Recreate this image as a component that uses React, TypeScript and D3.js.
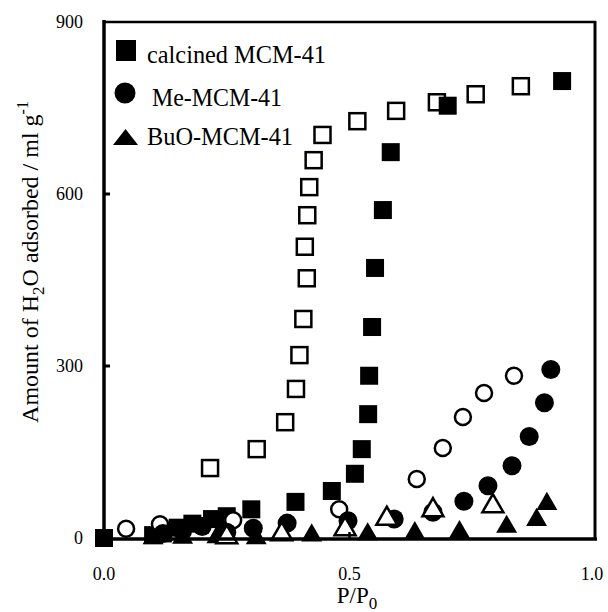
import React from 'react';
import * as d3 from 'd3';

// P/P0 vs amount of H2O adsorbed (ml g-1)
const calcinedAdsX = [0.0, 0.10, 0.12, 0.15, 0.18, 0.22, 0.25, 0.30, 0.39, 0.464, 0.511, 0.525, 0.538, 0.540, 0.546, 0.552, 0.568, 0.584, 0.70, 0.933];
const calcinedAdsY = [0, 5, 8, 18, 25, 33, 38, 50, 63, 82, 112, 155, 216, 283, 368, 471, 572, 673, 754, 797];
const calcinedDesX = [0.216, 0.311, 0.369, 0.391, 0.398, 0.406, 0.413, 0.409, 0.414, 0.418, 0.427, 0.445, 0.516, 0.595, 0.678, 0.757, 0.849];
const calcinedDesY = [122, 155, 202, 260, 319, 382, 453, 508, 563, 612, 659, 703, 727, 745, 760, 774, 788];
const meAdsX = [0.12, 0.16, 0.20, 0.25, 0.304, 0.373, 0.497, 0.591, 0.670, 0.733, 0.782, 0.831, 0.866, 0.897, 0.910];
const meAdsY = [8, 12, 20, 10, 17, 26, 30, 33, 45, 64, 91, 126, 177, 236, 294];
const meDesX = [0.045, 0.114, 0.263, 0.479, 0.637, 0.690, 0.731, 0.774, 0.835];
const meDesY = [16, 24, 31, 50, 103, 157, 211, 253, 283];
const buoAdsX = [0.10, 0.16, 0.23, 0.31, 0.423, 0.537, 0.633, 0.724, 0.820, 0.881, 0.902];
const buoAdsY = [3, 4, 5, 3, 8, 10, 12, 14, 23, 35, 63];
const buoDesX = [0.25, 0.362, 0.491, 0.576, 0.670, 0.792];
const buoDesY = [5, 10, 19, 37, 52, 59];
const xTicks = [0, 0.5, 1.0];
const yTicks = [0, 300, 600, 900];
const legendNames = ['calcined MCM-41', 'Me-MCM-41', 'BuO-MCM-41'];

const W = 608;
const H = 612;
const x = d3.scaleLinear().domain([0, 1]).range([104, 595]);
const y = d3.scaleLinear().domain([0, 900]).range([538, 22]);
const font = '"Liberation Serif", "DejaVu Serif", serif';
const tri = d3.symbol().type(d3.symbolTriangle).size(190)() as string;

const pts = (xs: number[], ys: number[]) => xs.map((v, i) => [x(v), y(ys[i])]);

function Square({ cx, cy, open }: { cx: number; cy: number; open: boolean }) {
  const s = open ? 16 : 18;
  return (
    <rect x={cx - s / 2} y={cy - s / 2} width={s} height={s}
      fill={open ? '#fff' : '#000'} stroke="#000" strokeWidth={open ? 2.5 : 0} />
  );
}

function Circle({ cx, cy, open }: { cx: number; cy: number; open: boolean }) {
  return <circle cx={cx} cy={cy} r={open ? 8 : 9.5} fill={open ? '#fff' : '#000'} stroke="#000" strokeWidth={open ? 2.5 : 0} />;
}

function Tri({ cx, cy, open }: { cx: number; cy: number; open: boolean }) {
  return (
    <path d={tri} transform={`translate(${cx},${cy + 2})`} fill={open ? '#fff' : '#000'}
      stroke="#000" strokeWidth={open ? 2.5 : 0} strokeLinejoin="miter" />
  );
}

export default function App() {
  return (
    <div style={{ position: 'absolute', left: 0, top: 0 }}>
      <svg width={W} height={H} style={{ display: 'block', background: '#fff' }}>
        <rect width={W} height={H} fill="#fff" />
        {/* markers */}
        {pts(calcinedDesX, calcinedDesY).map(([a, b], i) => <Square key={'cd' + i} cx={a} cy={b} open />)}
        {pts(calcinedAdsX, calcinedAdsY).map(([a, b], i) => <Square key={'ca' + i} cx={a} cy={b} open={false} />)}
        {pts(meDesX, meDesY).map(([a, b], i) => <Circle key={'md' + i} cx={a} cy={b} open />)}
        {pts(meAdsX, meAdsY).map(([a, b], i) => <Circle key={'ma' + i} cx={a} cy={b} open={false} />)}
        {pts(buoAdsX, buoAdsY).map(([a, b], i) => <Tri key={'ba' + i} cx={a} cy={b} open={false} />)}
        {pts(buoDesX, buoDesY).map(([a, b], i) => <Tri key={'bd' + i} cx={a} cy={b} open />)}

        {/* frame */}
        <line x1={104} y1={20} x2={104} y2={540} stroke="#000" strokeWidth={3.5} />
        <line x1={102} y1={539} x2={597} y2={539} stroke="#000" strokeWidth={3.5} />
        <line x1={104} y1={22} x2={596} y2={22} stroke="#000" strokeWidth={2.5} />
        <line x1={595} y1={21} x2={595} y2={540} stroke="#000" strokeWidth={3} />

        {/* ticks */}
        {yTicks.slice(1, 3).map((t) => (
          <line key={'yt' + t} x1={104} x2={110} y1={y(t)} y2={y(t)} stroke="#000" strokeWidth={3} />
        ))}
        <line x1={x(0.5)} x2={x(0.5)} y1={538} y2={532} stroke="#000" strokeWidth={2.5} />

        {/* tick labels */}
        {yTicks.map((t) => (
          <text key={'yl' + t} x={83} y={y(t) + 6} textAnchor="end" fontFamily={font} fontSize={18}>{t}</text>
        ))}
        {xTicks.map((t) => (
          <text key={'xl' + t} x={x(t) - (t === 1 ? 3 : 0)} y={580} textAnchor="middle" fontFamily={font} fontSize={18}>{t.toFixed(1)}</text>
        ))}

        {/* axis titles */}
        <text x={357} y={603} textAnchor="middle" fontFamily={font} fontSize={23}>
          P/P<tspan dy={6} fontSize={17}>0</tspan>
        </text>
        <text transform="translate(38,262) rotate(-90)" textAnchor="middle" fontFamily={font} fontSize={24}>
          Amount of H<tspan dy={6} fontSize={17}>2</tspan><tspan dy={-6}>O adsorbed / ml g</tspan><tspan dy={-10} fontSize={16}>-1</tspan>
        </text>

        {/* legend */}
        <rect x={116} y={40} width={20} height={21} fill="#000" />
        <text x={147} y={63} fontFamily={font} fontSize={25} textLength={179} lengthAdjust="spacingAndGlyphs">{legendNames[0]}</text>
        <circle cx={125} cy={93} r={10.5} fill="#000" />
        <text x={152} y={106} fontFamily={font} fontSize={25} textLength={130} lengthAdjust="spacingAndGlyphs">{legendNames[1]}</text>
        <path d="M113,145 L125.5,129 L138,145 Z" fill="#000" />
        <text x={147} y={145} fontFamily={font} fontSize={25} textLength={146} lengthAdjust="spacingAndGlyphs">{legendNames[2]}</text>
      </svg>
    </div>
  );
}
